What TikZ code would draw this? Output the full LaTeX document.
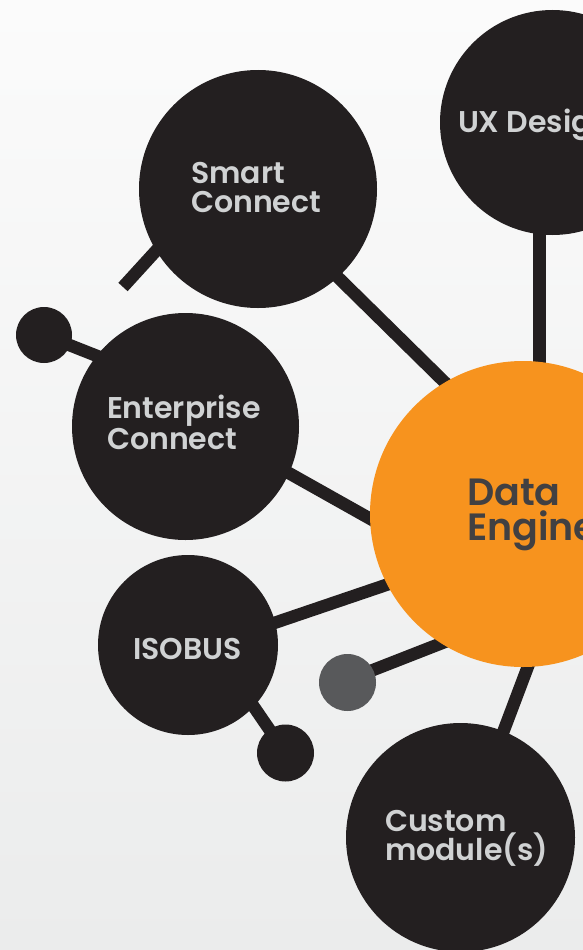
\documentclass[tikz,border=0pt]{standalone}
\usepackage{fontspec}
\setmainfont{Poppins}[BoldFont={Poppins SemiBold}]
\definecolor{darkc}{HTML}{231F20}
\definecolor{orangec}{HTML}{F7931E}
\definecolor{grayball}{HTML}{58595B}
\definecolor{lighttext}{HTML}{D0D2D3}
\definecolor{datatext}{HTML}{414042}
\definecolor{bgtop}{HTML}{FBFBFB}
\definecolor{bgbot}{HTML}{EBECEC}
\begin{document}
\begin{tikzpicture}[x=1pt,y=-1pt,
  ball/.style={circle, fill=darkc, inner sep=0pt, outer sep=0pt, minimum size=#1},
  link/.style={draw=darkc, line width=12.5pt},
  label/.style={anchor=base west, inner sep=0pt, outer sep=0pt, align=left, text=lighttext,
    font=\bfseries\fontsize{30}{29}\selectfont},
  biglabel/.style={anchor=base west, inner sep=0pt, outer sep=0pt, align=left, text=datatext,
    font=\bfseries\fontsize{38}{35}\selectfont}]
\useasboundingbox (0,0) rectangle (583,950);
\clip (0,0) rectangle (583,950);
\shade[top color=bgtop, bottom color=bgbot] (0,0) rectangle (583,950);

% connector end points
\coordinate (scStub) at (123,287);
\coordinate (scIn1) at (175,230);
\coordinate (scIn2) at (300,240);
\coordinate (deIn1) at (480,417);
\coordinate (uxIn) at (539.5,200);
\coordinate (deIn2) at (539.5,420);
\coordinate (ecIn1) at (130,369);
\coordinate (ecIn2) at (230,440);
\coordinate (deIn3) at (440,558);
\coordinate (isIn1) at (230,638);
\coordinate (deIn4) at (440,566.6);
\coordinate (deIn5) at (460,636);
\coordinate (isIn2) at (230,672);
\coordinate (deIn6) at (545.5,620);
\coordinate (cmIn) at (481.3,790);

% connectors
\draw[link] (scStub) -- (scIn1);
\draw[link] (scIn2) -- (deIn1);
\draw[link] (uxIn) -- (deIn2);
\draw[link] (ecIn2) -- (deIn3);
\draw[link] (isIn1) -- (deIn4);
\draw[link] (deIn6) -- (cmIn);

% small dots and their links
\node[ball=56pt] (ecDot) at (44,335) {};
\node[ball=57pt] (isDot) at (285.5,753) {};
\draw[link] (ecDot.center) -- (ecIn1);
\draw[link] (isDot.center) -- (isIn2);
\coordinate (gdLink) at (347.5,680);
\draw[link] (gdLink) -- (deIn5);
\node[ball=57pt, fill=grayball] (grayDot) at (347.5,682.5) {};

% main circles
\node[ball=238pt] (smart) at (258,189) {};
\node[ball=225pt] (ux) at (552.5,122.5) {};
\node[ball=227pt] (enterprise) at (185.5,426.5) {};
\node[ball=180pt] (isobus) at (188,645) {};
\node[ball=229pt] (custom) at (460.5,837.5) {};
\node[ball=306pt, fill=orangec] (data) at (523,514) {};

% labels (anchor = baseline of the last line)
\node[label] (tSmart) at (191,212) {Smart\\Connect};
\node[label] (tUx) at (458,132) {UX Design};
\node[label] (tEnt) at (107,449) {Enterprise\\Connect};
\node[label] (tIso) at (133,659) {ISOBUS};
\node[label] (tCust) at (385,860) {Custom\\module(s)};
\node[biglabel] (tData) at (467,540) {Data\\Engine};
\end{tikzpicture}
\end{document}
